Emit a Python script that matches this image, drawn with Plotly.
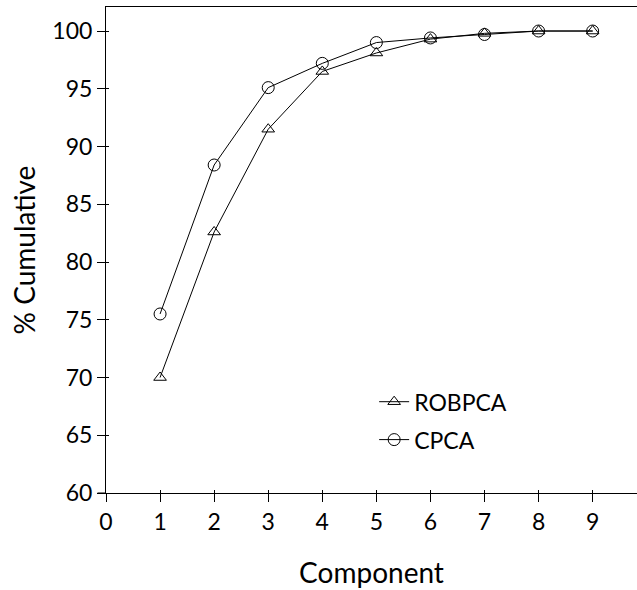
import plotly.graph_objects as go

components = [1, 2, 3, 4, 5, 6, 7, 8, 9]
robpca = [70.0, 82.6, 91.5, 96.5, 98.1, 99.3, 99.8, 100.0, 100.0]
cpca = [75.5, 88.4, 95.1, 97.2, 99.0, 99.4, 99.7, 100.0, 100.0]
xticks = [0, 1, 2, 3, 4, 5, 6, 7, 8, 9]
yticks = [60, 65, 70, 75, 80, 85, 90, 95, 100]

FONT = "Lato"
FS = 23
XR = [0, 9.82]
YR = [60, 102.08]

fig = go.Figure()
fig.add_trace(go.Scatter(
    x=components, y=robpca, name="ROBPCA", mode="lines+markers", legendgroup="a",
    line=dict(color="black", width=1),
    marker=dict(symbol="triangle-up-open", size=11, color="black", line=dict(width=1)),
))
fig.add_trace(go.Scatter(
    x=components, y=cpca, name="CPCA", mode="lines+markers", legendgroup="b",
    line=dict(color="black", width=1),
    marker=dict(symbol="circle-open", size=12, color="black", line=dict(width=1)),
))
# invisible trace to activate overlay axes for inner tick marks
fig.add_trace(go.Scatter(x=[None], y=[None], xaxis="x2", yaxis="y2",
                         showlegend=False, hoverinfo="skip"))

fig.update_layout(
    width=637, height=590,
    margin=dict(l=106, r=0, t=7, b=97),
    paper_bgcolor="white", plot_bgcolor="white",
    font=dict(family=FONT, size=FS, color="black"),
    showlegend=True,
    legend=dict(x=0.505, y=0.232, xanchor="left", yanchor="top",
                bgcolor="rgba(0,0,0,0)", font=dict(size=FS, family=FONT),
                itemwidth=30, tracegroupgap=5),
    xaxis=dict(range=XR, tickvals=xticks, ticktext=[str(v) for v in xticks],
               showgrid=False, zeroline=False, showline=True, mirror=True,
               linecolor="black", linewidth=1, ticks="outside", ticklen=8,
               tickcolor="black", tickfont=dict(size=FS),
               title=dict(text="Component", standoff=29)),
    yaxis=dict(range=YR, tickvals=yticks, ticktext=[str(v) for v in yticks],
               showgrid=False, zeroline=False, showline=True, mirror=False,
               linecolor="black", linewidth=1, ticks="outside", ticklen=8,
               tickcolor="black", tickfont=dict(size=FS),
               title=dict(text="% Cumulative", standoff=8)),
    xaxis2=dict(range=XR, tickvals=xticks, showticklabels=False, overlaying="x",
                showgrid=False, zeroline=False, showline=False,
                ticks="inside", ticklen=3, tickcolor="black"),
    yaxis2=dict(range=YR, tickvals=yticks, showticklabels=False, overlaying="y",
                showgrid=False, zeroline=False, showline=False,
                ticks="inside", ticklen=3, tickcolor="black"),
    shapes=[dict(type="line", xref="paper", yref="paper", x0=-0.016, x1=0, y0=0, y1=0,
                 line=dict(color="black", width=1))],
)

fig.write_html("out.html")
